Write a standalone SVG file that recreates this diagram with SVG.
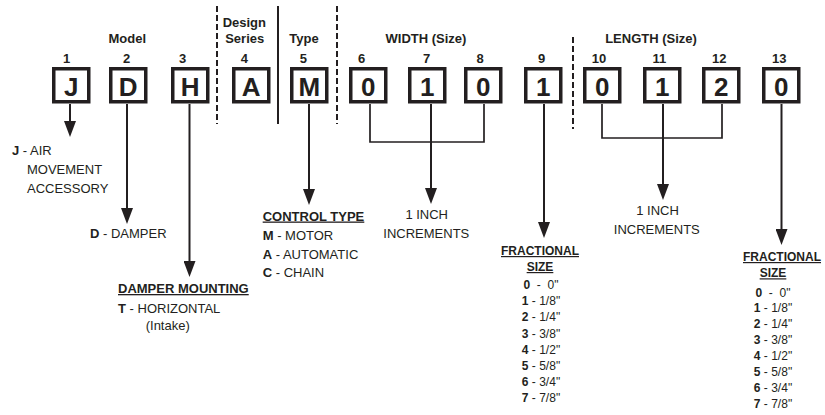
<svg xmlns="http://www.w3.org/2000/svg" width="825" height="415" viewBox="0 0 825 415">
<defs>
<style>
text{font-family:"Liberation Sans",Arial,Helvetica,sans-serif;fill:#231f20}
.hd{font-size:13px;font-weight:bold}
.num{font-size:13px;font-weight:bold;text-anchor:middle}
.box rect{fill:#fff;stroke:#231f20;stroke-width:3.5}
.box text{font-size:26px;font-weight:bold;text-anchor:middle}
.t{font-size:13px}
.b{font-weight:bold}
.ul{font-weight:bold;text-decoration:underline}
.fr{font-size:12px;text-anchor:middle}
.stem{stroke:#231f20;stroke-width:2;fill:none}
.br{stroke:#231f20;stroke-width:1.7;fill:none}
.sep{stroke:#231f20;stroke-width:2;fill:none}
.dash{stroke-dasharray:6 3}
</style>
<marker id="ah" markerUnits="userSpaceOnUse" markerWidth="16" markerHeight="12" refX="8" refY="6" orient="auto">
<path d="M0,0 L16,6 L0,12 Z" fill="#231f20"/>
</marker>
</defs>

<g id="headers">
<text class="hd" x="127.3" y="43.3" text-anchor="middle">Model</text>
<text class="hd" x="244.3" y="26.5" text-anchor="middle">Design</text>
<text class="hd" x="244.7" y="43.3" text-anchor="middle">Series</text>
<text class="hd" x="304" y="43.3" text-anchor="middle">Type</text>
<text class="hd" x="426" y="43.3" text-anchor="middle">WIDTH (Size)</text>
<text class="hd" x="651" y="43.3" text-anchor="middle">LENGTH (Size)</text>
<text class="num" x="66.7" y="63.3">1</text>
<text class="num" x="126.7" y="63.3">2</text>
<text class="num" x="182.7" y="63.3">3</text>
<text class="num" x="244.3" y="63.3">4</text>
<text class="num" x="303.3" y="63.3">5</text>
<text class="num" x="361.7" y="63.3">6</text>
<text class="num" x="426.7" y="63.3">7</text>
<text class="num" x="480" y="63.3">8</text>
<text class="num" x="541.7" y="63.3">9</text>
<text class="num" x="599" y="63.3">10</text>
<text class="num" x="659.3" y="63.3">11</text>
<text class="num" x="719.3" y="63.3">12</text>
<text class="num" x="779.3" y="63.3">13</text>
</g>

<g id="separators">
<line class="sep dash" x1="217" y1="6" x2="217" y2="124"/>
<line class="sep" x1="278" y1="6" x2="278" y2="124"/>
<line class="sep dash" x1="337" y1="6" x2="337" y2="124"/>
<line class="sep dash" x1="573" y1="37" x2="573" y2="129"/>
</g>

<g id="connectors">
<line class="stem" x1="70" y1="104" x2="70" y2="129" marker-end="url(#ah)"/>
<line class="stem" x1="127" y1="104" x2="127" y2="216" marker-end="url(#ah)"/>
<line class="stem" x1="189.5" y1="104" x2="189.5" y2="269" marker-end="url(#ah)"/>
<line class="stem" x1="309" y1="104" x2="309" y2="197" marker-end="url(#ah)"/>
<polyline class="br" points="370,104 370,142 484,142 484,104"/>
<line class="stem" x1="431" y1="104" x2="431" y2="196" marker-end="url(#ah)"/>
<line class="stem" x1="544" y1="104" x2="544" y2="230" marker-end="url(#ah)"/>
<polyline class="br" points="602,104 602,138 722,138 722,104"/>
<line class="stem" x1="663" y1="104" x2="663" y2="192" marker-end="url(#ah)"/>
<line class="stem" x1="781.5" y1="104" x2="781.5" y2="237" marker-end="url(#ah)"/>
</g>

<g id="box1" class="box"><rect x="53.75" y="68.75" width="35" height="33"/><text x="71.25" y="96">J</text></g>
<g id="box2" class="box"><rect x="110.75" y="68.75" width="35" height="33"/><text x="128.25" y="96">D</text></g>
<g id="box3" class="box"><rect x="172.75" y="68.75" width="35" height="33"/><text x="190.25" y="96">H</text></g>
<g id="box4" class="box"><rect x="233.75" y="68.75" width="35" height="33"/><text x="251.25" y="96">A</text></g>
<g id="box5" class="box"><rect x="291.75" y="68.75" width="35" height="33"/><text x="309.25" y="96">M</text></g>
<g id="box6" class="box"><rect x="350.75" y="68.75" width="35" height="33"/><text x="368.25" y="96">0</text></g>
<g id="box7" class="box"><rect x="409.75" y="68.75" width="35" height="33"/><text x="427.25" y="96">1</text></g>
<g id="box8" class="box"><rect x="465.75" y="68.75" width="35" height="33"/><text x="483.25" y="96">0</text></g>
<g id="box9" class="box"><rect x="525.75" y="68.75" width="35" height="33"/><text x="543.25" y="96">1</text></g>
<g id="box10" class="box"><rect x="584.75" y="68.75" width="35" height="33"/><text x="602.25" y="96">0</text></g>
<g id="box11" class="box"><rect x="644.75" y="68.75" width="35" height="33"/><text x="662.25" y="96">1</text></g>
<g id="box12" class="box"><rect x="703.75" y="68.75" width="35" height="33"/><text x="721.25" y="96">2</text></g>
<g id="box13" class="box"><rect x="763.75" y="68.75" width="35" height="33"/><text x="781.25" y="96">0</text></g>

<g id="desc-j" class="t">
<text x="12" y="155.3"><tspan class="b">J</tspan> - AIR</text>
<text x="27" y="174.3">MOVEMENT</text>
<text x="27" y="193">ACCESSORY</text>
</g>
<g id="desc-d" class="t">
<text x="90" y="238"><tspan class="b">D</tspan> - DAMPER</text>
</g>
<g id="desc-h" class="t">
<text class="ul" x="118" y="293">DAMPER MOUNTING</text>
<text x="118" y="312.5"><tspan class="b">T</tspan> - HORIZONTAL</text>
<text x="145.7" y="330">(Intake)</text>
</g>
<g id="desc-m" class="t">
<text class="ul" x="262.7" y="220.5">CONTROL TYPE</text>
<text x="262.7" y="240"><tspan class="b">M</tspan> - MOTOR</text>
<text x="262.7" y="258.5"><tspan class="b">A</tspan> - AUTOMATIC</text>
<text x="262.7" y="277.3"><tspan class="b">C</tspan> - CHAIN</text>
</g>
<g id="desc-width" class="t">
<text x="426.7" y="219" text-anchor="middle">1 INCH</text>
<text x="426.3" y="237.5" text-anchor="middle">INCREMENTS</text>
</g>
<g id="desc-length" class="t">
<text x="657.5" y="215" text-anchor="middle">1 INCH</text>
<text x="656.8" y="233.5" text-anchor="middle">INCREMENTS</text>
</g>
<g id="desc-frac1" class="fr">
<text class="ul" x="540" y="255">FRACTIONAL</text>
<text class="ul" x="540" y="271">SIZE</text>
<text x="541" y="289"><tspan class="b">0</tspan>&#160; -&#160; 0"</text>
<text x="541" y="305.2"><tspan class="b">1</tspan> - 1/8"</text>
<text x="541" y="321.4"><tspan class="b">2</tspan> - 1/4"</text>
<text x="541" y="337.6"><tspan class="b">3</tspan> - 3/8"</text>
<text x="541" y="353.8"><tspan class="b">4</tspan> - 1/2"</text>
<text x="541" y="370"><tspan class="b">5</tspan> - 5/8"</text>
<text x="541" y="386.2"><tspan class="b">6</tspan> - 3/4"</text>
<text x="541" y="402.4"><tspan class="b">7</tspan> - 7/8"</text>
</g>
<g id="desc-frac2" class="fr">
<text class="ul" x="782" y="261">FRACTIONAL</text>
<text class="ul" x="773" y="277.3">SIZE</text>
<text x="773" y="296.5"><tspan class="b">0</tspan>&#160; -&#160; 0"</text>
<text x="773" y="312.4"><tspan class="b">1</tspan> - 1/8"</text>
<text x="773" y="328.3"><tspan class="b">2</tspan> - 1/4"</text>
<text x="773" y="344.2"><tspan class="b">3</tspan> - 3/8"</text>
<text x="773" y="360.1"><tspan class="b">4</tspan> - 1/2"</text>
<text x="773" y="376"><tspan class="b">5</tspan> - 5/8"</text>
<text x="773" y="391.9"><tspan class="b">6</tspan> - 3/4"</text>
<text x="773" y="407.8"><tspan class="b">7</tspan> - 7/8"</text>
</g>
</svg>
